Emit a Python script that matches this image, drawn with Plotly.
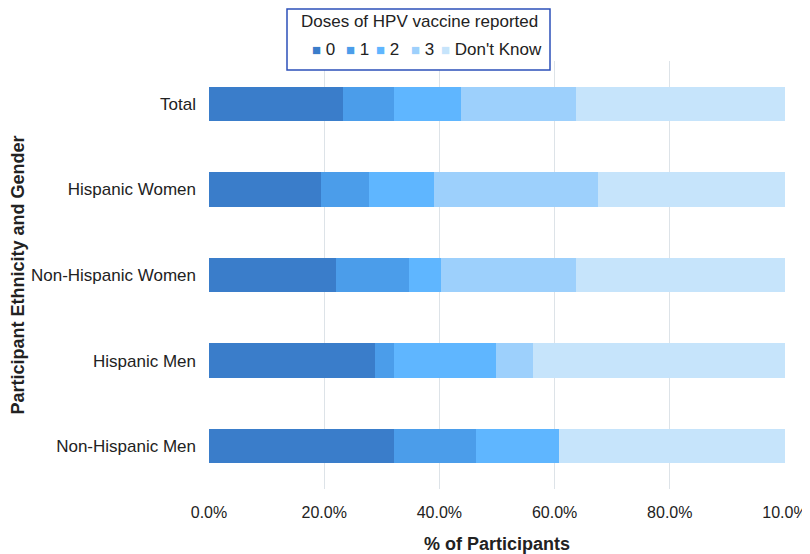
import plotly.graph_objects as go

categories = ["Non-Hispanic Men", "Hispanic Men", "Non-Hispanic Women", "Hispanic Women", "Total"]
dose_labels = ["0", "1", "2", "3", "Don't Know"]
dose0 = [32.1, 28.9, 22.1, 19.5, 23.3]
dose1 = [14.3, 3.3, 12.6, 8.3, 8.9]
dose2 = [14.3, 17.7, 5.5, 11.3, 11.5]
dose3 = [0.0, 6.4, 23.6, 28.5, 20.0]
dont_know = [39.3, 43.7, 36.2, 32.4, 36.3]
tick_vals = [0, 20, 40, 60, 80, 100]
tick_text = ["0.0%", "20.0%", "40.0%", "60.0%", "80.0%", "10.0%"]
legend_title = "Doses of HPV vaccine reported"

series = [dose0, dose1, dose2, dose3, dont_know]
colors = ["#3A7DCA", "#4B9DEA", "#5FB6FF", "#9DD0FC", "#C6E4FB"]

# the page body adds an 8px offset; size the figure to the visible area
OFF = 8
W, H = 810 - OFF, 554 - OFF
L, R, T, B = 201, 25, 53, 65
PW, PH = W - L - R, H - T - B


def px(x):
    return (x - OFF - L) / PW


def py(y):
    return (H - B - (y - OFF)) / PH


FONT = "Liberation Sans, Arial, Helvetica, sans-serif"

fig = go.Figure()
for name, vals, col in zip(dose_labels, series, colors):
    fig.add_trace(go.Bar(
        y=categories, x=vals, name=name, orientation="h",
        marker=dict(color=col, line=dict(width=0)),
        showlegend=False,
    ))

# legend drawn as box + text
shapes = [dict(type="rect", xref="paper", yref="paper",
               x0=px(287), x1=px(550), y0=py(70), y1=py(9),
               line=dict(color="#2D50B9", width=1.5), fillcolor="white", layer="above")]
annotations = [dict(text=legend_title, xref="paper", yref="paper",
                    x=px(419), y=py(22), xanchor="center", yanchor="middle",
                    showarrow=False, font=dict(size=17, color="#222"))]
item_x = [310, 344, 374, 409, 439]
for xx, name, col in zip(item_x, dose_labels, colors):
    annotations.append(dict(
        text=f"<span style='color:{col};font-size:15px'>■</span> {name}",
        xref="paper", yref="paper", x=px(xx), y=py(49),
        xanchor="left", yanchor="middle", showarrow=False,
        font=dict(size=17, color="#222")))

fig.update_layout(
    barmode="stack",
    bargap=0.6,
    width=W, height=H,
    margin=dict(l=L, r=R, t=T, b=B, autoexpand=False),
    plot_bgcolor="white", paper_bgcolor="white",
    font=dict(family=FONT, size=17, color="#222"),
    showlegend=False,
    shapes=shapes,
    annotations=annotations,
    xaxis=dict(
        range=[0, 100], tickvals=tick_vals, ticktext=tick_text,
        showgrid=True, gridcolor="#DDE3E8", gridwidth=1, zeroline=False,
        showline=False, ticks="", ticklabelstandoff=12, automargin=False,
        tickfont=dict(size=16),
        title=dict(text="<b>% of Participants</b>", font=dict(size=18), standoff=20),
    ),
    yaxis=dict(
        showgrid=False, showline=False, ticks="", ticklabelstandoff=12, automargin=False,
        title=dict(text="<b>Participant Ethnicity and Gender</b>", font=dict(size=18), standoff=5),
    ),
)

fig.write_html("out.html")
